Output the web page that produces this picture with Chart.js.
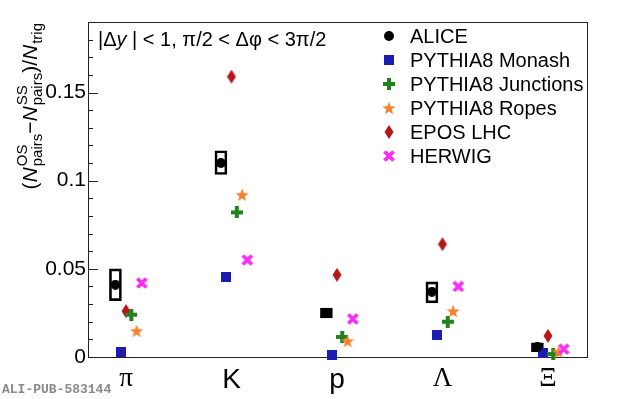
<!DOCTYPE html>
<html>
<head>
<meta charset="utf-8">
<script src="https://cdn.jsdelivr.net/npm/chart.js@4/dist/chart.umd.min.js"></script>
<style>
  html, body { margin: 0; padding: 0; background: #fff; }
  #wrap { position: relative; width: 620px; height: 399px; }
</style>
</head>
<body>
<div id="wrap"><canvas id="chart" width="620" height="399"></canvas></div>
<script>
// data
const categories = ["π", "K", "p", "Λ", "Ξ"];
const alice = [0.041, 0.110, 0.025, 0.037, 0.0057];
const aliceSysLow = [0.032, 0.1035, 0.0222, 0.0307, 0.0030];
const aliceSysHigh = [0.050, 0.117, 0.0278, 0.0426, 0.0080];
const monash = [0.0028, 0.0455, 0.001, 0.0125, 0.0023];
const junctions = [0.024, 0.082, 0.0114, 0.020, 0.0017];
const ropes = [0.0148, 0.092, 0.009, 0.026, 0.003];
const epos = [0.026, 0.159, 0.0466, 0.064, 0.012];
const herwig = [0.042, 0.055, 0.0216, 0.040, 0.0045];
const yTickLabels = ["0", "0.05", "0.1", "0.15"];

const SANS = '"Liberation Sans", Arial, sans-serif';
const SERIF = '"Liberation Serif", "Times New Roman", serif';

// small canvas icons for the ROOT-like markers
function makeIcon(w, h, draw) {
  const c = document.createElement("canvas");
  c.width = w;
  c.height = h;
  draw(c.getContext("2d"), w, h);
  return c;
}

const icons = {
  circle: makeIcon(10, 10, (g) => {
    g.fillStyle = "#000";
    g.beginPath();
    g.arc(5, 5, 5, 0, Math.PI * 2);
    g.fill();
  }),
  square: makeIcon(10, 10, (g) => {
    g.fillStyle = "#1c1cb0";
    g.fillRect(0, 0, 10, 10);
  }),
  plus: makeIcon(12, 12, (g) => {
    g.fillStyle = "#23821e";
    g.fillRect(4, 0, 4, 12);
    g.fillRect(0, 4, 12, 4);
  }),
  star: makeIcon(14, 14, (g) => {
    g.fillStyle = "#f7802f";
    g.beginPath();
    for (let i = 0; i < 10; i++) {
      const r = i % 2 === 0 ? 7 : 2.8;
      const a = -Math.PI / 2 + (i * Math.PI) / 5;
      const px = 7 + r * Math.cos(a);
      const py = 7.6 + r * Math.sin(a);
      if (i === 0) g.moveTo(px, py);
      else g.lineTo(px, py);
    }
    g.closePath();
    g.fill();
  }),
  diamond: makeIcon(10, 14, (g) => {
    g.fillStyle = "#b5171a";
    g.beginPath();
    g.moveTo(5, 0);
    g.lineTo(9.5, 7);
    g.lineTo(5, 14);
    g.lineTo(0.5, 7);
    g.closePath();
    g.fill();
  }),
  xmark: makeIcon(12, 12, (g) => {
    g.strokeStyle = "#fb2bf8";
    g.lineWidth = 3.8;
    g.beginPath();
    g.moveTo(1.5, 1.5);
    g.lineTo(10.5, 10.5);
    g.moveTo(10.5, 1.5);
    g.lineTo(1.5, 10.5);
    g.stroke();
  }),
};

// name, values, marker, x shift inside the bin, draw order (low = on top)
const series = [
  { label: "ALICE", values: alice, icon: icons.circle, shift: -0.1, order: 0 },
  { label: "PYTHIA8 Monash", values: monash, icon: icons.square, shift: -0.05, order: 5 },
  { label: "PYTHIA8 Junctions", values: junctions, icon: icons.plus, shift: 0.05, order: 3 },
  { label: "PYTHIA8 Ropes", values: ropes, icon: icons.star, shift: 0.1, order: 2 },
  { label: "EPOS LHC", values: epos, icon: icons.diamond, shift: 0, order: 4 },
  { label: "HERWIG", values: herwig, icon: icons.xmark, shift: 0.15, order: 1 },
];

const datasets = series.map((s) => ({
  type: "scatter",
  label: s.label,
  data: s.values.map((v, i) => ({ x: i + 1 + s.shift, y: v })),
  pointStyle: s.icon,
  pointRadius: 6,
  showLine: false,
  clip: false,
  order: s.order,
}));

// systematic boxes for ALICE
datasets.push({
  type: "bar",
  label: "ALICE syst",
  data: alice.map((v, i) => ({ x: i + 1 + series[0].shift, y: [aliceSysLow[i], aliceSysHigh[i]] })),
  backgroundColor: "rgba(0,0,0,0)",
  borderColor: "#000",
  borderWidth: 2,
  borderSkipped: false,
  barThickness: 12,
  clip: false,
  order: 6,
});

// frame and inward ROOT-style ticks
const framePlugin = {
  id: "frame",
  beforeDatasetsDraw(chart) {
    const { ctx, chartArea: a, scales } = chart;
    ctx.save();
    ctx.strokeStyle = "#222";
    ctx.lineWidth = 1;
    ctx.strokeRect(a.left + 0.5, a.top + 0.5, a.right - a.left, a.bottom - a.top);
    ctx.beginPath();
    scales.y.ticks.forEach((t) => {
      const py = Math.round(scales.y.getPixelForValue(t.value)) + 0.5;
      const len = t.label ? 10 : 5;
      ctx.moveTo(a.left, py);
      ctx.lineTo(a.left + len, py);
    });
    ctx.stroke();
    ctx.restore();
  },
};

function drawYTitle(ctx) {
  const big = "21px " + SANS;
  const bigIt = "italic 21px " + SANS;
  const small = "15px " + SANS;
  const parts = [
    { t: "(", f: big },
    { t: "N", f: bigIt },
    { up: "OS", down: "pairs" },
    { t: "−", f: big },
    { t: "N", f: bigIt },
    { up: "SS", down: "pairs" },
    { t: ")/", f: big },
    { t: "N", f: bigIt },
    { up: "", down: "trig" },
  ];
  let total = 0;
  parts.forEach((p) => {
    if (p.t) {
      ctx.font = p.f;
      p.w = ctx.measureText(p.t).width;
    } else {
      ctx.font = small;
      p.w = Math.max(ctx.measureText(p.up).width, ctx.measureText(p.down).width) + 1;
    }
    total += p.w;
  });
  ctx.save();
  ctx.translate(37, 23 + total);
  ctx.rotate(-Math.PI / 2);
  ctx.fillStyle = "#000";
  ctx.textBaseline = "alphabetic";
  let x = 0;
  parts.forEach((p) => {
    if (p.t) {
      ctx.font = p.f;
      ctx.fillText(p.t, x, 0);
    } else {
      ctx.font = small;
      ctx.fillText(p.up, x + 1, -10);
      ctx.fillText(p.down, x + 1, 5);
    }
    x += p.w;
  });
  ctx.restore();
}

const textPlugin = {
  id: "texts",
  afterDraw(chart) {
    const ctx = chart.ctx;
    ctx.save();
    ctx.fillStyle = "#000";
    ctx.textBaseline = "alphabetic";

    // selection text
    let x = 98;
    [["|Δ", ""], ["y", "italic "], [" | < 1, π/2 < Δφ < 3π/2", ""]].forEach(([t, st]) => {
      ctx.font = st + "20px " + SANS;
      ctx.fillText(t, x, 46);
      x += ctx.measureText(t).width;
    });

    // legend
    ctx.font = "20px " + SANS;
    series.forEach((s, i) => {
      const cy = 36 + i * 24;
      const ic = s.icon;
      ctx.drawImage(ic, Math.round(389 - ic.width / 2), Math.round(cy - ic.height / 2));
      ctx.fillText(s.label, 410, cy + 7);
    });

    drawYTitle(ctx);

    ctx.font = "bold 13px \"Liberation Mono\", monospace";
    ctx.fillStyle = "#8a8a8a";
    ctx.fillText("ALI-PUB-583144", 2, 393);
    ctx.restore();
  },
};

new Chart(document.getElementById("chart"), {
  type: "scatter",
  data: { datasets: datasets },
  options: {
    responsive: false,
    animation: false,
    devicePixelRatio: 1,
    layout: { padding: { top: 22, right: 33, bottom: 0, left: 0 } },
    plugins: {
      legend: { display: false },
      tooltip: { enabled: false },
    },
    scales: {
      x: {
        type: "linear",
        offset: false,
        min: 0.64,
        max: 5.37,
        grid: { display: false, drawTicks: false, offset: false },
        border: { display: false },
        afterBuildTicks: (scale) => {
          scale.ticks = categories.map((c, i) => ({ value: i + 1 }));
        },
        afterFit: (scale) => {
          scale.height = 42;
        },
        ticks: {
          autoSkip: false,
          maxRotation: 0,
          padding: 6,
          color: "#000",
          callback: (v) => categories[Math.round(v) - 1],
          font: (c) => {
            const greek = ["π", "Λ", "Ξ"].includes(categories[c.index]);
            return { family: greek ? SERIF : SANS, size: greek ? 27 : 28 };
          },
        },
      },
      y: {
        min: 0,
        max: 0.19,
        grid: { display: false, drawTicks: false },
        border: { display: false },
        afterFit: (scale) => {
          scale.width = 88;
        },
        ticks: {
          stepSize: 0.01,
          autoSkip: false,
          padding: 2,
          color: "#000",
          font: { family: SANS, size: 21 },
          callback: (v) => {
            const k = Math.round(v / 0.05);
            return Math.abs(v - k * 0.05) < 1e-9 ? yTickLabels[k] : "";
          },
        },
      },
    },
  },
  plugins: [framePlugin, textPlugin],
});
</script>
</body>
</html>
